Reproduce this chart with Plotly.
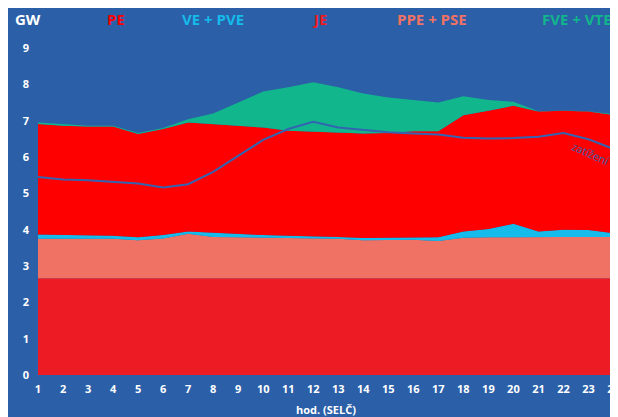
import plotly.graph_objects as go

# hodiny (SELČ)
hodiny = list(range(1, 25))

# výkon jednotlivých zdrojů v GW
je = [2.66] * 24
ppe_pse = [1.09, 1.09, 1.09, 1.09, 1.05, 1.10, 1.23, 1.14, 1.13, 1.12, 1.11, 1.10,
           1.09, 1.05, 1.05, 1.06, 1.03, 1.12, 1.13, 1.14, 1.14, 1.14, 1.14, 1.14]
ve_pve = [0.12, 0.11, 0.09, 0.08, 0.08, 0.09, 0.06, 0.11, 0.09, 0.07, 0.06, 0.06,
          0.05, 0.06, 0.06, 0.07, 0.10, 0.17, 0.23, 0.36, 0.15, 0.20, 0.19, 0.10]
pe = [3.04, 3.00, 3.00, 3.01, 2.84, 2.92, 3.00, 2.99, 2.98, 2.96, 2.89, 2.87,
      2.86, 2.88, 2.89, 2.92, 2.92, 3.20, 3.25, 3.25, 3.30, 3.27, 3.26, 3.26]
fve_vte = [0.04, 0.05, 0.02, 0.02, 0.03, 0.03, 0.09, 0.30, 0.64, 0.99, 1.20, 1.37,
           1.26, 1.10, 0.98, 0.87, 0.79, 0.52, 0.30, 0.11, 0.01, 0.01, 0.01, 0.02]
zatizeni = [5.45, 5.38, 5.36, 5.31, 5.27, 5.16, 5.25, 5.59, 6.03, 6.47, 6.77, 6.97,
            6.81, 6.74, 6.68, 6.65, 6.62, 6.53, 6.51, 6.52, 6.56, 6.66, 6.49, 6.22]

pozadi = "#2B5FA8"
font = "Liberation Sans Narrow, Open Sans, sans-serif"

serie = [
    ("JE", je, "#ED1C24"),
    ("PPE + PSE", ppe_pse, "#F07265"),
    ("VE + PVE", ve_pve, "#15BBEA"),
    ("PE", pe, "#FF0000"),
    ("FVE + VTE", fve_vte, "#12B68C"),
]

fig = go.Figure()
for nazev, hodnoty, barva in serie:
    fig.add_trace(go.Scatter(
        x=hodiny, y=hodnoty, name=nazev, mode="lines",
        stackgroup="zdroje", line=dict(width=0, color=barva),
        fillcolor=barva,
    ))

fig.add_trace(go.Scatter(
    x=hodiny, y=zatizeni, name="zatížení", mode="lines",
    line=dict(color="#3463B2", width=2),
))

# legenda jako barevný text nahoře
legenda = [
    ("GW", -0.043, "#FFFFFF"),
    ("PE", 0.116, "#FF0000"),
    ("VE + PVE", 0.247, "#15BBEA"),
    ("JE", 0.472, "#ED1C24"),
    ("PPE + PSE", 0.620, "#F07265"),
    ("FVE + VTE", 0.872, "#12B68C"),
]
for text, x, barva in legenda:
    fig.add_annotation(
        text="<b>" + text + "</b>", x=x, y=1.089, xref="paper", yref="paper",
        xanchor="left", yanchor="middle", showarrow=False,
        font=dict(family=font, size=15, color=barva),
    )

fig.add_annotation(
    text="zatížení", x=23.1, y=6.1, showarrow=False, textangle=24,
    font=dict(family=font, size=11, color="#3463B2"),
)
fig.add_annotation(
    text="<b>hod. (SELČ)</b>", x=0.5, y=-0.107, xref="paper", yref="paper",
    xanchor="center", yanchor="middle", showarrow=False,
    font=dict(family=font, size=11, color="#FFFFFF"),
)

# stránka má vlastní okraj 8 px, proto je graf o něco menší
fig.update_layout(
    width=610, height=409,
    margin=dict(l=30, r=4, t=40, b=42),
    paper_bgcolor=pozadi, plot_bgcolor=pozadi,
    showlegend=False,
    font=dict(family=font, color="#FFFFFF", size=11),
)
fig.update_xaxes(
    range=[1, 24.02], tickmode="linear", tick0=1, dtick=1, showgrid=False, zeroline=False,
    tickfont=dict(size=11, color="#FFFFFF"), ticks="", ticklabelstandoff=6,
    automargin=False, ticklabeloverflow="allow",
    tickprefix="<b>", ticksuffix="</b>",
)
fig.update_yaxes(
    range=[0, 9], tickmode="linear", dtick=1, showgrid=False, zeroline=False,
    tickfont=dict(size=11, color="#FFFFFF"), ticklabelstandoff=8,
    automargin=False, tickprefix="<b>", ticksuffix="</b>",
)

fig.write_html("out.html")
